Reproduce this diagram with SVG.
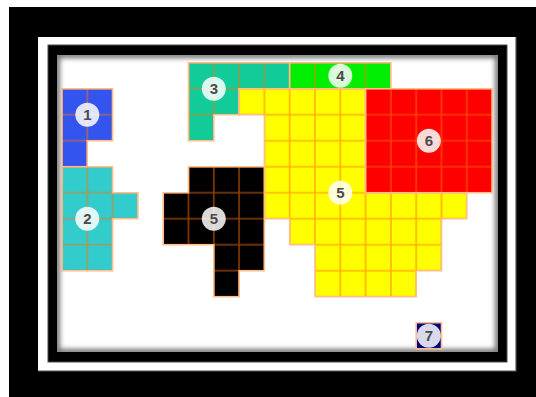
<svg xmlns="http://www.w3.org/2000/svg" width="536" height="397" viewBox="0 0 536 397">
<style>
.cell{stroke:none}
.grid{fill:url(#grid);stroke:none}
.edge{fill:none;stroke:#ffbe8c;stroke-width:1.6;stroke-linejoin:miter}
.badge{fill:#ffffff;fill-opacity:0.85}
.lbl{font-family:"Liberation Sans",Arial,sans-serif;font-size:15px;font-weight:bold;fill:#4a4a4a;text-anchor:middle}
</style>
<defs>
<pattern id="grid" x="49.35" y="49.7" width="25.3" height="26" patternUnits="userSpaceOnUse">
<path d="M12.65 0V26M0 13H25.3" stroke="#ff7000" stroke-opacity="0.55" stroke-width="1.6" fill="none"/>
</pattern>
<clipPath id="inner"><rect x="57" y="55" width="441" height="297"/></clipPath>
<filter id="blur" x="-10%" y="-10%" width="120%" height="120%"><feGaussianBlur stdDeviation="2.5"/></filter>
</defs>
<rect x="0" y="0" width="536" height="397" fill="#ffffff"/>
<rect x="9" y="7" width="527" height="390" fill="#000000"/>
<rect x="38" y="37" width="478" height="334" fill="#ffffff"/>
<path d="M516 37V371H38" fill="none" stroke="#555" stroke-width="1.2"/>
<rect x="48" y="45" width="459" height="317" fill="#000000" stroke="#4a4a4a" stroke-width="1"/>
<rect x="57" y="55" width="441" height="297" fill="#ffffff"/>
<g clip-path="url(#inner)">
<rect x="57" y="55" width="441" height="297" fill="none" stroke="#707070" stroke-width="6" filter="url(#blur)"/>
</g>
<g id="region1">
<path class="cell" fill="#3355ee" d="M62 88.7H112.6V140.7H87.3V166.7H62Z"/>
<path class="grid" d="M62 88.7H112.6V140.7H87.3V166.7H62Z"/>
<path class="edge" d="M62 88.7H112.6V140.7H87.3V166.7H62Z"/>
</g>
<g id="region2">
<path class="cell" fill="#33cccc" d="M62 166.7H112.6V192.7H137.9V218.7H112.6V270.7H62Z"/>
<path class="grid" d="M62 166.7H112.6V192.7H137.9V218.7H112.6V270.7H62Z"/>
<path class="edge" d="M62 166.7H112.6V192.7H137.9V218.7H112.6V270.7H62Z"/>
</g>
<g id="region3">
<path class="cell" fill="#11cc99" d="M188.5 62.7H289.7V88.7H239.1V114.7H213.8V140.7H188.5Z"/>
<path class="grid" d="M188.5 62.7H289.7V88.7H239.1V114.7H213.8V140.7H188.5Z"/>
<path class="edge" d="M188.5 62.7H289.7V88.7H239.1V114.7H213.8V140.7H188.5Z"/>
</g>
<g id="region4">
<path class="cell" fill="#00ee00" d="M289.7 62.7H390.9V88.7H289.7Z"/>
<path class="grid" d="M289.7 62.7H390.9V88.7H289.7Z"/>
<path class="edge" d="M289.7 62.7H390.9V88.7H289.7Z"/>
</g>
<g id="region5-yellow">
<path class="cell" fill="#ffff00" d="M239.1 88.7H365.6V192.7H466.8V218.7H441.5V270.7H416.2V296.7H315V244.7H289.7V218.7H264.4V114.7H239.1Z"/>
<path class="grid" d="M239.1 88.7H365.6V192.7H466.8V218.7H441.5V270.7H416.2V296.7H315V244.7H289.7V218.7H264.4V114.7H239.1Z"/>
<path class="edge" d="M239.1 88.7H365.6V192.7H466.8V218.7H441.5V270.7H416.2V296.7H315V244.7H289.7V218.7H264.4V114.7H239.1Z"/>
</g>
<g id="region6">
<path class="cell" fill="#ff0000" d="M365.6 88.7H492.1V192.7H365.6Z"/>
<path class="grid" d="M365.6 88.7H492.1V192.7H365.6Z"/>
<path class="edge" d="M365.6 88.7H492.1V192.7H365.6Z"/>
</g>
<g id="region5-black">
<path class="cell" fill="#000000" d="M188.5 166.7H264.4V270.7H239.1V296.7H213.8V244.7H163.2V192.7H188.5Z"/>
<path class="grid" d="M188.5 166.7H264.4V270.7H239.1V296.7H213.8V244.7H163.2V192.7H188.5Z"/>
<path class="edge" d="M188.5 166.7H264.4V270.7H239.1V296.7H213.8V244.7H163.2V192.7H188.5Z"/>
</g>
<g id="region7">
<path class="cell" fill="#000080" d="M416.2 322.7H441.5V348.7H416.2Z"/>
<path class="edge" d="M416.2 322.7H441.5V348.7H416.2Z"/>
</g>
<g id="labels">
<g id="label1"><circle class="badge" cx="87.3" cy="114.7" r="12"/><text class="lbl" x="87.3" y="120">1</text></g>
<g id="label2"><circle class="badge" cx="87.3" cy="218.7" r="12"/><text class="lbl" x="87.3" y="224">2</text></g>
<g id="label3"><circle class="badge" cx="213.8" cy="88.7" r="12"/><text class="lbl" x="213.8" y="94">3</text></g>
<g id="label4"><circle class="badge" cx="340.3" cy="75.7" r="12"/><text class="lbl" x="340.3" y="81">4</text></g>
<g id="label5a"><circle class="badge" cx="340.3" cy="192.7" r="12"/><text class="lbl" x="340.3" y="198">5</text></g>
<g id="label6"><circle class="badge" cx="428.85" cy="140.7" r="12"/><text class="lbl" x="428.85" y="146">6</text></g>
<g id="label5b"><circle class="badge" cx="213.8" cy="218.7" r="12"/><text class="lbl" x="213.8" y="224">5</text></g>
<g id="label7"><circle class="badge" cx="428.85" cy="335.7" r="12"/><text class="lbl" x="428.85" y="341">7</text></g>
</g>
</svg>
